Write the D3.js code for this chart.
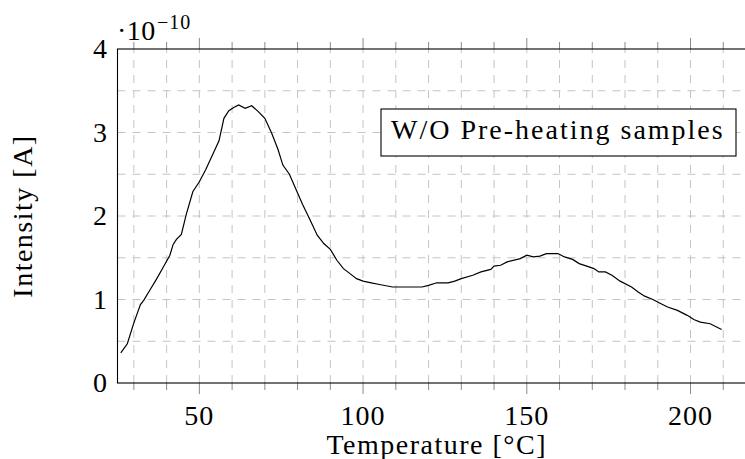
<!DOCTYPE html>
<html>
<head>
<meta charset="utf-8">
<script src="https://cdn.jsdelivr.net/npm/d3@7"></script>
<style>
  body { margin: 0; background: #fff; }
  text { font-family: "Liberation Serif", serif; fill: #000; }
</style>
</head>
<body>
<div id="chart"></div>
<script>
// data (intensity in units of 1e-10 A)
var temps = [26, 28, 30, 32, 33, 35, 37, 39, 41, 42, 43, 44.5, 46, 48, 50, 52, 54, 56, 57.5, 59,
  60.5, 62, 64, 66, 68, 70, 72, 74, 75.5, 77.5, 79.5, 81.5, 83.5, 86, 88, 90, 92, 94, 96, 98,
  100, 102.5, 105, 109, 113, 118, 120, 122.5, 126, 128, 130, 133.5, 136, 139, 140, 142, 144, 148, 150, 152,
  154, 156, 159.5, 161.5, 164, 166, 169, 170.5, 172, 174, 176, 178.5, 182, 184, 186, 188.5, 191, 193, 196, 199,
  201, 203, 206, 209.5];
var intensity = [0.36, 0.47, 0.72, 0.94, 0.99, 1.12, 1.25, 1.39, 1.53, 1.66, 1.72, 1.78, 2.02, 2.29, 2.41, 2.56, 2.73, 2.90, 3.17, 3.26,
  3.30, 3.33, 3.29, 3.32, 3.25, 3.17, 3.00, 2.80, 2.61, 2.50, 2.32, 2.14, 1.98, 1.77, 1.67, 1.60, 1.47, 1.37, 1.31, 1.25,
  1.22, 1.20, 1.18, 1.15, 1.15, 1.15, 1.17, 1.20, 1.20, 1.22, 1.25, 1.29, 1.33, 1.36, 1.40, 1.41, 1.45, 1.49, 1.53, 1.51,
  1.52, 1.55, 1.55, 1.51, 1.48, 1.43, 1.39, 1.37, 1.33, 1.33, 1.29, 1.22, 1.15, 1.09, 1.04, 1.00, 0.95, 0.91, 0.87, 0.81,
  0.76, 0.73, 0.71, 0.64];
var xTickLabels = [50, 100, 150, 200];
var yTickLabels = [0, 1, 2, 3, 4];
var xMinorTicks = d3.range(30, 230, 10);
var yGrid = d3.range(0.5, 4, 0.5);
var legendLabel = "W/O Pre-heating samples";

function draw() {
  "use strict";
  var W = 745, H = 459;
  var pLeft = 117.5, pRight = 756, pTop = 49, pBottom = 383;

  var x = d3.scaleLinear().domain([25, 220]).range([pLeft, pRight]);
  var y = d3.scaleLinear().domain([0, 4]).range([pBottom, pTop]);

  var svg = d3.select("#chart").append("svg")
    .attr("width", W).attr("height", H);

  svg.append("clipPath").attr("id", "plotclip")
    .append("rect").attr("x", pLeft).attr("y", pTop)
    .attr("width", pRight - pLeft).attr("height", pBottom - pTop);

  // grid
  svg.append("g").selectAll("line").data(xMinorTicks).enter().append("line")
    .attr("x1", d => x(d)).attr("x2", d => x(d))
    .attr("y1", pBottom).attr("y2", pTop)
    .attr("stroke", "#c4c4c4").attr("stroke-width", 1).attr("stroke-dasharray", "8,7");
  svg.append("g").selectAll("line").data(yGrid).enter().append("line")
    .attr("x1", pLeft).attr("x2", pRight)
    .attr("y1", d => y(d)).attr("y2", d => y(d))
    .attr("stroke", "#c4c4c4").attr("stroke-width", 1).attr("stroke-dasharray", "8,7");

  // ticks, outside on bottom and top
  function tickLen(d) { return d % 50 === 0 ? 11 : 7; }
  svg.append("g").selectAll("line").data(xMinorTicks).enter().append("line")
    .attr("x1", d => x(d)).attr("x2", d => x(d))
    .attr("y1", pBottom).attr("y2", d => pBottom + tickLen(d))
    .attr("stroke", "#8a8a8a").attr("stroke-width", 1);
  svg.append("g").selectAll("line").data(xMinorTicks).enter().append("line")
    .attr("x1", d => x(d)).attr("x2", d => x(d))
    .attr("y1", pTop).attr("y2", d => pTop - tickLen(d))
    .attr("stroke", "#8a8a8a").attr("stroke-width", 1);

  // frame
  svg.append("rect")
    .attr("x", pLeft).attr("y", pTop)
    .attr("width", pRight - pLeft).attr("height", pBottom - pTop)
    .attr("fill", "none").attr("stroke", "#000").attr("stroke-width", 1.1);

  // curve
  var line = d3.line().x(d => x(d[0])).y(d => y(d[1]));
  svg.append("path")
    .datum(d3.zip(temps, intensity))
    .attr("clip-path", "url(#plotclip)")
    .attr("d", line)
    .attr("fill", "none").attr("stroke", "#000").attr("stroke-width", 1.2);

  // tick labels
  svg.append("g").selectAll("text").data(xTickLabels).enter().append("text")
    .attr("x", d => x(d)).attr("y", 425)
    .attr("text-anchor", "middle").style("font-size", "28px").style("letter-spacing", "1px")
    .text(d => d);
  svg.append("g").selectAll("text").data(yTickLabels).enter().append("text")
    .attr("x", 107).attr("y", d => y(d) + 9)
    .attr("text-anchor", "end").style("font-size", "28px")
    .text(d => d);

  // exponent
  svg.append("text").attr("x", 117).attr("y", 40)
    .style("font-size", "28px").style("letter-spacing", "0.5px")
    .text("\u00b710");
  svg.append("text").attr("x", 157).attr("y", 29)
    .style("font-size", "20px").style("letter-spacing", "1px")
    .text("\u221210");

  // axis titles
  svg.append("text")
    .attr("x", (pLeft + pRight) / 2).attr("y", 454)
    .attr("text-anchor", "middle").style("font-size", "28px").style("letter-spacing", "1.5px")
    .text("Temperature [\u00b0C]");
  svg.append("text")
    .attr("transform", "translate(32," + ((pTop + pBottom) / 2) + ") rotate(-90)")
    .attr("text-anchor", "middle").style("font-size", "28px").style("letter-spacing", "1.5px")
    .text("Intensity [A]");

  // legend box
  svg.append("rect")
    .attr("x", 381).attr("y", 109).attr("width", 355).attr("height", 47)
    .attr("fill", "#fff").attr("stroke", "#000").attr("stroke-width", 1.1);
  svg.append("text")
    .attr("x", 391).attr("y", 139)
    .style("font-size", "28px").style("letter-spacing", "2px")
    .text(legendLabel);
}

draw();
</script>
</body>
</html>
